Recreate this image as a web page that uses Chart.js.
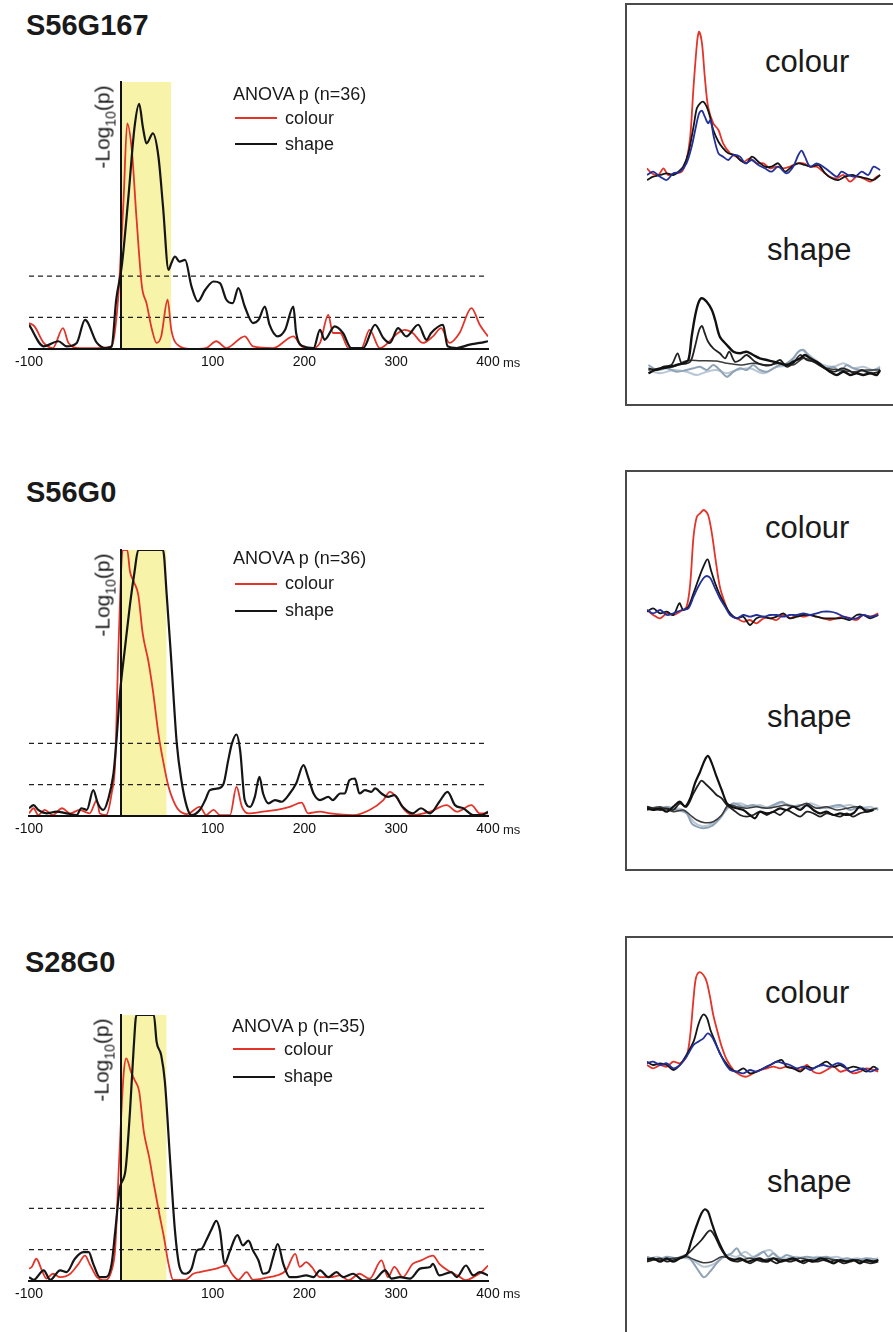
<!DOCTYPE html>
<html>
<head>
<meta charset="utf-8">
<script src="https://cdn.jsdelivr.net/npm/chart.js@4.4.1/dist/chart.umd.min.js"></script>
<style>
  html, body { margin: 0; padding: 0; background: #fff; }
  body { width: 893px; height: 1332px; position: relative; overflow: hidden;
         font-family: "Liberation Sans", Arial, sans-serif; color: #1a1a1a; }
  .abs { position: absolute; white-space: nowrap; }
  .title { font-weight: bold; font-size: 29px; line-height: 29px; }
  .leg { font-size: 18px; line-height: 18px; }
  .swatch { position: absolute; width: 42px; height: 0; border-top: 2px solid; }
  .ylab { font-size: 21px; line-height: 21px; transform: translate(-50%, -50%) rotate(-90deg); }
  .ylab sub { font-size: 14px; vertical-align: -6px; line-height: 0; }
  .ms { font-size: 13px; line-height: 13px; }
  .box { position: absolute; border: 2px solid #4a4a4a; box-sizing: border-box; }
  .big { font-size: 31px; line-height: 31px; }
  canvas { position: absolute; display: block; }
</style>
</head>
<body>

<!-- cell names -->
<div class="abs title" style="left:26px;top:10.5px">S56G167</div>
<div class="abs title" style="left:26px;top:477.5px">S56G0</div>
<div class="abs title" style="left:25px;top:947.5px">S28G0</div>

<!-- significance plots -->
<canvas id="sig1" width="560" height="317" style="left:0;top:62px"></canvas>
<canvas id="sig2" width="560" height="316" style="left:0;top:530px"></canvas>
<canvas id="sig3" width="560" height="316" style="left:0;top:995px"></canvas>

<div class="abs ylab" style="left:102px;top:127px">-Log<sub>10</sub>(p)</div>
<div class="abs ylab" style="left:102px;top:595px">-Log<sub>10</sub>(p)</div>
<div class="abs ylab" style="left:101px;top:1060px">-Log<sub>10</sub>(p)</div>

<div class="abs ms" style="left:503px;top:355.6px">ms</div>
<div class="abs ms" style="left:503px;top:822.6px">ms</div>
<div class="abs ms" style="left:503px;top:1287px">ms</div>

<!-- legends -->
<div class="abs leg" style="left:233px;top:84.8px">ANOVA p (n=36)</div>
<div class="swatch" style="left:235px;top:117px;border-color:#e3342a"></div>
<div class="abs leg" style="left:285px;top:108.8px">colour</div>
<div class="swatch" style="left:235px;top:143px;border-color:#151515"></div>
<div class="abs leg" style="left:285px;top:134.8px">shape</div>

<div class="abs leg" style="left:233px;top:548.8px">ANOVA p (n=36)</div>
<div class="swatch" style="left:235px;top:583px;border-color:#e3342a"></div>
<div class="abs leg" style="left:285px;top:573.8px">colour</div>
<div class="swatch" style="left:235px;top:610px;border-color:#151515"></div>
<div class="abs leg" style="left:285px;top:600.8px">shape</div>

<div class="abs leg" style="left:232px;top:1016.8px">ANOVA p (n=35)</div>
<div class="swatch" style="left:233px;top:1048px;border-color:#e3342a"></div>
<div class="abs leg" style="left:284px;top:1039.8px">colour</div>
<div class="swatch" style="left:233px;top:1076px;border-color:#151515"></div>
<div class="abs leg" style="left:284px;top:1066.8px">shape</div>

<!-- response panels -->
<div class="box" style="left:625px;top:3px;width:300px;height:403px"></div>
<div class="box" style="left:625px;top:470px;width:300px;height:401px"></div>
<div class="box" style="left:625px;top:936px;width:300px;height:430px"></div>

<div class="abs big" style="left:765px;top:45.8px">colour</div>
<div class="abs big" style="left:767px;top:233.8px">shape</div>
<div class="abs big" style="left:765px;top:511.8px">colour</div>
<div class="abs big" style="left:767px;top:700.8px">shape</div>
<div class="abs big" style="left:765px;top:976.8px">colour</div>
<div class="abs big" style="left:767px;top:1165.8px">shape</div>

<canvas id="r1c" width="247" height="173" style="left:641px;top:16px"></canvas>
<canvas id="r1s" width="247" height="113" style="left:641px;top:276px"></canvas>
<canvas id="r2c" width="247" height="138" style="left:641px;top:496px"></canvas>
<canvas id="r2s" width="247" height="103" style="left:641px;top:736px"></canvas>
<canvas id="r3c" width="247" height="133" style="left:641px;top:961px"></canvas>
<canvas id="r3s" width="247" height="98" style="left:641px;top:1196px"></canvas>

<script>
// ---- axis settings for the -log10(p) plots ----
const xTickLabels = ['-100', '', '100', '200', '300', '400'];
const yTop = 11;                 // -log10(p) values above this are drawn at the ceiling
const thresholds = [1.3, 3];     // p = 0.05 and p = 0.001
const windowEnd = [55, 50, 50];  // end of the early response window (ms)

// ---- -log10(p) time courses, [time ms, -log10 p] ----
const s56g167Colour = [[-100,1.07],[-94,0.93],[-84,0.25],[-74,0.04],[-63,0.86],[-57,0.25],[-45,0.04],[-26,0.04],[-10,0.11],[-3,2.03],[3,6.14],[7,9.29],[12,8.19],[17,5.45],[23,2.58],[28,1.89],[34,0.79],[39,0.25],[44,0.52],[51,2.03],[55,0.79],[64,0.11],[75,0],[93,0.04],[104,0.32],[115,0.04],[135,0.52],[144,0.11],[166,0.04],[188,0.52],[197,0.11],[208,0.04],[217,0.25],[226,1.41],[231,0.66],[239,0.66],[248,0.04],[262,0.04],[271,0.79],[282,0.04],[302,0.66],[309,0.79],[318,0.66],[329,0.25],[340,0.52],[349,0.86],[358,0.25],[369,0.66],[382,1.68],[391,1.0],[400,0.52]];
const s56g167Shape = [[-100,1.0],[-84,0.11],[-68,0.32],[-59,0.11],[-48,0.25],[-39,1.2],[-26,0.25],[-16,0.04],[-10,0.11],[-5,2.03],[1,3.4],[8,6.14],[15,9.15],[20,10.1],[24,9.15],[28,8.47],[35,8.88],[41,7.92],[46,5.86],[52,3.26],[55,3.53],[59,3.81],[64,3.6],[70,3.67],[77,2.58],[84,1.96],[92,2.44],[101,2.78],[108,2.71],[115,2.03],[122,1.89],[128,2.51],[135,1.75],[144,1.07],[150,1.2],[157,1.75],[162,1.0],[171,0.52],[179,0.79],[188,1.75],[191,0.66],[199,0.11],[210,0.04],[217,0.79],[222,0.38],[233,0.93],[242,0.66],[251,0.04],[264,0.04],[277,1.0],[286,0.45],[293,0.25],[302,0.86],[311,0.52],[324,1.0],[333,0.38],[338,0.66],[351,1.0],[356,0.11],[366,0.04],[380,0.18],[391,0.25],[400,0.32]];

const s56g0Colour = [[-100,0.11],[-95,0.32],[-90,0.04],[-83,0.25],[-74,0.04],[-64,0.32],[-55,0.11],[-45,0.25],[-34,0.11],[-26,0.66],[-23,0.11],[-16,0.04],[-10,0.93],[-6,2.3],[-3,6.41],[0,9.84],[2,11],[7,11],[10,10.11],[14,9.7],[19,9.15],[24,7.51],[30,6.41],[35,5.18],[41,3.4],[46,2.3],[52,1.21],[57,0.66],[63,0.25],[72,0.08],[86,0.38],[93,0.04],[101,0.25],[108,0.04],[119,0.04],[126,1.21],[132,0.38],[139,0.11],[155,0.18],[170,0.25],[184,0.38],[197,0.55],[204,0.11],[217,0.18],[228,0.11],[253,0.04],[271,0.25],[286,0.66],[293,1.0],[300,0.79],[309,0.25],[318,0.04],[337,0.18],[355,0.45],[366,0.18],[382,0.45],[391,0.11],[400,0.11]];
const s56g0Shape = [[-100,0.32],[-95,0.45],[-90,0.25],[-81,0.11],[-70,0.18],[-59,0.11],[-48,0.04],[-43,0.32],[-37,0.25],[-30,1.07],[-25,0.52],[-19,0.25],[-14,0.66],[-8,1.75],[-5,2.99],[-1,5.04],[5,7.1],[10,8.74],[15,10.11],[19,11],[46,11],[50,9.15],[55,6.41],[61,2.99],[66,1.48],[72,0.38],[77,0.04],[86,0.25],[92,0.66],[97,1.07],[106,1.14],[112,1.34],[117,2.3],[121,2.99],[126,3.37],[130,2.71],[135,0.66],[141,0.38],[146,0.79],[151,1.62],[155,0.93],[161,0.52],[168,0.66],[175,0.59],[184,0.93],[191,1.34],[199,2.1],[204,1.62],[210,0.93],[217,0.66],[226,0.79],[231,0.66],[239,0.93],[244,0.93],[249,1.48],[255,1.55],[260,0.93],[266,1.07],[273,1.0],[277,1.14],[284,0.93],[291,0.79],[298,0.86],[307,0.38],[318,0.11],[327,0.32],[337,0.11],[347,0.59],[356,1.0],[364,0.45],[373,0.32],[384,0.04],[393,0.04],[400,0.18]];

const s28g0Colour = [[-100,0.51],[-97,0.58],[-92,0.92],[-86,0.44],[-81,0.1],[-74,0.3],[-66,0.16],[-55,0.3],[-46,0.71],[-39,1.05],[-34,0.71],[-26,0.16],[-17,0.03],[-10,0.44],[-6,1.4],[-2,4.82],[3,8.52],[6,9.21],[11,8.66],[15,8.32],[20,7.84],[25,6.19],[31,5.1],[36,4.0],[42,2.77],[47,1.81],[52,0.71],[57,0.05],[70,0.05],[79,0.3],[86,0.37],[95,0.44],[104,0.51],[115,0.64],[121,0.3],[128,0.05],[137,0.37],[144,0.05],[159,0.14],[170,0.23],[180,0.44],[190,1.12],[195,0.58],[202,0.78],[208,0.58],[217,0.16],[228,0.16],[239,0.23],[248,0.03],[260,0.3],[271,0.1],[284,0.85],[291,0.16],[298,0.58],[307,0.16],[318,0.71],[327,0.85],[340,1.05],[347,0.71],[356,0.44],[367,0.23],[376,0.03],[384,0.16],[393,0.37],[400,0.64]];
const s28g0Shape = [[-100,0.16],[-95,0.05],[-84,0.44],[-77,0.05],[-66,0.44],[-59,0.37],[-50,0.92],[-41,1.19],[-35,1.19],[-30,0.71],[-23,0.16],[-16,0.16],[-10,0.71],[-6,2.08],[-1,3.86],[5,4.55],[10,7.01],[14,9.62],[17,11],[36,11],[39,9.89],[44,9.34],[48,8.25],[54,4.82],[59,2.08],[64,0.58],[70,0.3],[77,0.51],[83,1.26],[88,1.33],[93,1.67],[99,2.15],[104,2.49],[108,2.08],[113,0.71],[119,1.26],[127,1.9],[133,1.47],[139,1.67],[144,1.26],[150,0.85],[155,0.3],[161,0.37],[166,0.99],[171,1.53],[177,0.71],[184,0.16],[191,0.16],[202,0.23],[210,0.16],[217,0.44],[226,0.16],[235,0.37],[242,0.16],[253,0.3],[264,0.03],[275,0.03],[288,0.44],[295,0.1],[304,0.16],[315,0.1],[326,0.51],[337,0.58],[340,0.71],[347,0.23],[360,0.37],[366,0.16],[376,0.64],[384,0.23],[391,0.37],[400,0.23]];

// ---- firing-rate traces (spikes/s) for the response panels, [time ms, rate] ----
const s56g167ColourRed = [[-100,16.7],[-90,11.7],[-76,10],[-65,16.7],[-55,10],[-40,11.7],[-26,13.3],[-16,25],[-8,48.3],[-1,98],[7,145],[11,153.3],[17,141.7],[23,108],[30,78],[41,61.7],[52,55],[62,41.7],[77,31.7],[91,28],[105,23],[119,26.7],[133,21.7],[148,21.7],[162,16.7],[176,18.3],[190,16.7],[204,18.3],[219,21.7],[233,21.7],[247,18.3],[261,18.3],[275,13.3],[289,8.3],[304,6.7],[318,10],[332,3.3],[346,8.3],[360,6.7],[375,3.3],[389,8.3],[396,10]];
const s56g167ColourBlack = [[-100,5],[-87,8.3],[-72,10],[-58,11.7],[-44,10],[-33,13.3],[-23,18.3],[-12,31.7],[-1,58.3],[6,76.7],[13,81.7],[20,83.3],[27,78.3],[34,68.3],[41,55],[52,43.3],[62,36.7],[73,31.7],[87,30],[98,25],[112,21.7],[123,28.3],[137,23.3],[151,18.3],[165,18.3],[179,21.7],[194,13.3],[208,18.3],[222,21.7],[236,20],[250,18.3],[265,20],[279,11.7],[293,6.7],[307,5],[321,8.3],[336,10],[350,8.3],[367,6.7],[382,5],[396,10]];
const s56g167ColourBlue = [[-100,10],[-87,13.3],[-72,8.3],[-58,5],[-44,11.7],[-30,13.3],[-16,21.7],[-5,38.3],[4,58.3],[11,71.7],[17,74.3],[23,68.3],[30,61.7],[35,65],[42,48.3],[52,31.7],[62,28.3],[73,25],[84,30],[98,28.3],[109,21.7],[123,25],[137,20],[151,16.7],[165,13.3],[179,18.3],[197,11.7],[211,18.3],[222,30],[229,34.3],[236,28.3],[247,18.3],[261,21.7],[275,18.3],[289,13.3],[304,8.3],[314,13.3],[328,10],[343,8.3],[357,13.3],[371,10],[382,18.3],[396,15]];
const s56g167ShapeStrong = [[-97,11.7],[-83,15],[-69,16.7],[-51,18.3],[-37,20],[-23,21.7],[-12,25],[-5,48.3],[2,68.3],[9,81.7],[16,86.7],[27,83.3],[38,75],[45,65],[55,48.3],[70,40],[84,33.3],[98,31.7],[112,33.3],[126,30],[140,26.7],[155,25],[169,23.3],[183,21.7],[197,20],[211,23.3],[226,26.7],[236,30],[247,26.7],[261,23.3],[275,18.3],[289,13.3],[304,10],[318,13.3],[332,10],[346,11.7],[360,10],[375,11.7],[389,10],[396,15]];
const s56g167ShapeMid = [[-97,16.7],[-79,15],[-65,18.3],[-48,20],[-35,31.7],[-26,21.7],[-8,23.3],[2,38.3],[11,55],[17,59],[23,51.7],[30,43.3],[41,36.7],[55,31.7],[66,26.7],[75,33.3],[87,23.3],[98,25],[112,30],[130,23.3],[148,20],[165,20],[183,25],[197,18.3],[211,21.7],[226,30],[240,25],[254,23.3],[272,18.3],[286,15],[300,13.3],[314,16.7],[328,15],[343,11.7],[357,15],[375,11.7],[396,13.3]];
const s56g167ShapeFlat = [[-97,15],[-72,16.7],[-44,18.3],[-16,24.3],[13,24.3],[48,24],[70,21.7],[98,20],[126,21.7],[155,20],[183,21.7],[211,20],[233,26.7],[254,23.3],[282,16.7],[311,15],[339,13.3],[367,15],[396,15]];
const s56g167ShapeLight1 = [[-97,20],[-79,15],[-58,16.7],[-37,13.3],[-16,15],[-1,16.7],[13,18.3],[27,15],[41,20],[55,15],[70,8.3],[84,13.3],[98,16.7],[112,15],[126,20],[140,15],[155,13.3],[169,16.7],[183,20],[197,21.7],[211,26.7],[222,33.3],[233,35],[243,30],[254,25],[268,21.7],[282,16.7],[297,18.3],[311,13.3],[325,20],[339,16.7],[353,15],[367,13.3],[382,15],[396,16.7]];
const s56g167ShapeLight2 = [[-97,15],[-72,11.7],[-44,15],[-16,13.3],[6,10],[27,13.3],[48,15],[70,11.7],[91,15],[119,16.7],[148,11.7],[176,18.3],[204,20],[219,31.7],[229,35],[240,31.7],[254,26.7],[275,20],[297,18.3],[318,21.7],[339,16.7],[360,18.3],[382,15],[396,18.3]];

const s56g0ColourRed = [[-100,20],[-87,15],[-72,11.7],[-58,16.7],[-44,15],[-30,18.3],[-16,23.3],[-8,46.7],[-1,93.3],[6,113.3],[13,116.7],[21,120],[30,115],[38,96.7],[45,73.3],[55,43.3],[66,26.7],[77,15],[91,11.7],[105,8.3],[119,10],[133,6.7],[148,11.7],[162,11.7],[176,10],[190,15],[204,11.7],[219,15],[233,13.3],[247,15],[261,13.3],[275,11.7],[289,10],[304,11.7],[318,13.3],[332,11.7],[346,10],[360,15],[375,13.3],[392,16.7]];
const s56g0ColourBlack = [[-100,18.3],[-87,21.7],[-72,16.7],[-58,18.3],[-44,15],[-31,26.7],[-23,20],[-12,23.3],[-1,36.7],[9,50],[20,63.3],[29,70.7],[36,60],[45,46.7],[55,35],[66,25],[77,16.7],[91,11.7],[105,13.3],[119,5],[133,11.7],[148,13.3],[162,11.7],[176,13.3],[190,16.7],[204,11.7],[219,13.3],[233,15],[247,15],[261,13.3],[275,11.7],[289,11.7],[304,11.7],[318,11.7],[332,10],[346,15],[360,15],[375,11.7],[392,15]];
const s56g0ColourBlue = [[-100,20],[-87,16.7],[-72,20],[-58,15],[-44,16.7],[-26,20],[-12,21.7],[-1,33.3],[9,43.3],[20,51.7],[27,54],[35,51.7],[45,41.7],[55,31.7],[66,23.3],[77,15],[91,11.7],[105,15],[119,13.3],[133,15],[148,13.3],[162,15],[176,15],[190,13.3],[204,15],[219,15],[233,16.7],[247,15],[261,16.7],[275,18.3],[289,18.3],[304,16.7],[318,13.3],[332,11.7],[346,11.7],[360,15],[375,13.3],[392,15]];
const s56g0ShapeStrong = [[-100,26.7],[-87,25],[-72,26.7],[-58,23.3],[-44,28.3],[-30,33.3],[-19,28.3],[-8,36.7],[2,51.7],[13,63.3],[23,75],[30,79],[38,71.7],[48,58.3],[59,45],[70,31.7],[80,28.3],[91,26.7],[105,25],[119,20],[130,16.7],[140,23.3],[155,21.7],[169,23.3],[183,26.7],[197,25],[211,28.3],[226,25],[240,30],[254,25],[268,21.7],[282,23.3],[297,20],[311,21.7],[325,20],[339,21.7],[353,28.3],[367,23.3],[382,25]];
const s56g0ShapeMid = [[-100,28.3],[-87,26.7],[-72,25],[-58,26.7],[-44,25],[-30,31.7],[-16,28.3],[-1,41.7],[9,50],[16,54.3],[27,50],[38,45],[48,40],[59,36.7],[70,30],[84,25],[98,20],[112,18.3],[126,20],[140,23.3],[155,20],[169,23.3],[183,20],[197,25],[211,21.7],[226,18.3],[240,23.3],[254,21.7],[268,18.3],[282,21.7],[297,20],[311,18.3],[325,21.7],[339,18.3],[353,21.7],[367,23.3],[382,25]];
const s56g0ShapeFlat = [[-100,25],[-72,28.3],[-44,23.3],[-23,25],[-8,20],[6,15],[23,12.3],[41,13.3],[59,20],[73,30],[91,28.3],[112,26.7],[133,28.3],[155,26.7],[176,28.3],[197,30],[219,28.3],[240,31.7],[261,26.7],[282,28.3],[304,25],[325,26.7],[346,28.3],[367,25],[389,26.7]];
const s56g0ShapeLight1 = [[-100,28.3],[-79,25],[-58,28.3],[-37,25],[-16,21.7],[-5,11.7],[6,8.3],[20,6.7],[38,9],[55,16.7],[70,26.7],[84,31.7],[105,28.3],[126,30],[148,26.7],[169,30],[187,33.3],[204,28.3],[226,30],[247,28.3],[268,26.7],[289,28.3],[311,30],[332,25],[353,28.3],[375,25],[392,26.7]];
const s56g0ShapeLight2 = [[-100,25],[-79,28.3],[-58,25],[-37,26.7],[-16,23.3],[-1,13.3],[16,9],[34,10],[52,15],[66,23.3],[80,30],[98,31.7],[119,28.3],[140,30],[162,26.7],[183,31.7],[204,30],[226,26.7],[247,31.7],[268,28.3],[289,26.7],[311,28.3],[332,30],[353,26.7],[375,28.3],[392,25]];

const s28g0ColourRed = [[-100,25],[-87,21.7],[-72,25],[-58,23.3],[-44,28.3],[-30,26.7],[-16,33.3],[-8,55],[-1,91.7],[4,111.7],[11,117.7],[20,115],[27,108.3],[34,93.3],[41,75],[50,58.3],[59,43.3],[70,30],[84,20],[98,15],[112,13.3],[126,16.7],[140,20],[155,21.7],[169,23.3],[183,21.7],[197,23.3],[211,21.7],[226,20],[240,25],[254,18.3],[268,16.7],[282,20],[297,23.3],[311,18.3],[325,20],[339,16.7],[353,18.3],[367,21.7],[382,20],[392,18.3]];
const s28g0ColourBlack = [[-100,28.3],[-87,25],[-72,26.7],[-58,25],[-44,20],[-30,25],[-16,35],[-1,48.3],[9,65],[16,73.3],[21,75.7],[28,71.7],[35,60],[45,48.3],[55,36.7],[66,28.3],[77,21.7],[91,18.3],[105,21.7],[119,16.7],[133,18.3],[148,21.7],[162,25],[176,28.3],[187,30],[197,23.3],[211,21.7],[226,18.3],[240,23.3],[254,21.7],[268,25],[282,28.3],[297,23.3],[311,25],[325,21.7],[339,23.3],[353,21.7],[367,18.3],[382,23.3],[392,20]];
const s28g0ColourBlue = [[-100,26.7],[-87,28.3],[-72,25],[-58,26.7],[-44,21.7],[-30,25],[-16,33.3],[-1,45],[9,48.3],[20,51.7],[29,56.7],[38,53.3],[47,45],[57,35],[66,26.7],[77,20],[91,18.3],[105,16.7],[119,20],[133,18.3],[148,21.7],[162,25],[176,28.3],[190,26.7],[204,25],[219,21.7],[233,23.3],[247,20],[261,23.3],[275,25],[289,23.3],[304,26.7],[318,25],[332,18.3],[346,20],[360,21.7],[375,18.3],[392,21.7]];
const s28g0ShapeStrong = [[-100,30],[-87,31.7],[-72,28.3],[-58,31.7],[-44,28.3],[-30,31.7],[-16,35],[-5,50],[6,65],[16,76.7],[23,80.7],[30,78.3],[38,66.7],[48,53.3],[59,41.7],[70,33.3],[84,30],[98,31.7],[112,28.3],[126,30],[140,31.7],[155,28.3],[169,31.7],[183,28.3],[197,30],[211,31.7],[226,28.3],[240,30],[254,28.3],[268,31.7],[282,30],[297,26.7],[311,30],[325,28.3],[339,30],[353,26.7],[367,30],[382,28.3],[392,30]];
const s28g0ShapeMid = [[-100,28.3],[-87,30],[-72,31.7],[-58,28.3],[-44,30],[-30,31.7],[-12,36.7],[2,43.3],[16,50],[30,58.3],[36,59.3],[45,53.3],[55,43.3],[66,35],[77,30],[91,28.3],[105,30],[119,26.7],[133,30],[148,28.3],[162,30],[176,26.7],[190,30],[204,28.3],[219,30],[233,26.7],[247,30],[261,28.3],[275,30],[289,28.3],[304,30],[318,26.7],[332,28.3],[346,30],[360,28.3],[375,26.7],[392,28.3]];
const s28g0ShapeFlat = [[-100,31.7],[-72,30],[-44,31.7],[-16,33.3],[2,30],[20,27.3],[38,28.3],[59,33.3],[77,31.7],[98,30],[119,31.7],[140,30],[169,31.7],[197,30],[226,31.7],[254,30],[282,31.7],[311,28.3],[339,30],[367,28.3],[392,30]];
const s28g0ShapeLight1 = [[-100,33.3],[-79,30],[-58,33.3],[-37,31.7],[-16,35],[-1,26.7],[11,18.3],[21,12.7],[34,18.3],[48,26.7],[62,33.3],[80,36.7],[91,41.7],[101,35],[119,31.7],[137,35],[148,38.3],[158,33.3],[169,36.7],[183,31.7],[197,35],[219,31.7],[240,33.3],[261,31.7],[282,33.3],[304,30],[325,31.7],[346,30],[367,31.7],[392,30]];
const s28g0ShapeLight2 = [[-100,30],[-79,33.3],[-58,30],[-37,31.7],[-16,31.7],[2,28.3],[20,23.3],[38,25],[55,30],[73,35],[91,33.3],[109,38.3],[126,33.3],[140,36.7],[162,40],[176,33.3],[197,31.7],[219,33.3],[240,30],[261,33.3],[282,31.7],[304,33.3],[325,30],[346,31.7],[367,30],[392,31.7]];

// ---- styling ----
const RED = '#e3342a', BLACK = '#151515', BLUE = '#22309a', YELLOW = '#f7f4aa';
const FONT = '"Liberation Sans", Arial, sans-serif';
Chart.defaults.font.family = FONT;

function sigChart(id, colour, shape, winEnd) {
  new Chart(document.getElementById(id), {
    type: 'line',
    data: {
      datasets: [
        { data: shape, borderColor: BLACK, borderWidth: 2.2, order: 1 },
        { data: colour, borderColor: RED, borderWidth: 1.8, order: 2 },
        { data: [[-100, thresholds[0]], [400, thresholds[0]]], borderColor: '#222', borderWidth: 1.3, borderDash: [5, 4], order: 3 },
        { data: [[-100, thresholds[1]], [400, thresholds[1]]], borderColor: '#222', borderWidth: 1.3, borderDash: [5, 4], order: 3 },
        { data: [[0, yTop], [winEnd, yTop]], borderWidth: 0, borderColor: 'rgba(0,0,0,0)', backgroundColor: YELLOW, fill: 'origin', order: 9 }
      ]
    },
    options: {
      responsive: false, animation: false, events: [],
      layout: { padding: { left: 29, right: 72, top: 20, bottom: 0 } },
      elements: { point: { radius: 0 }, line: { cubicInterpolationMode: 'monotone' } },
      plugins: { legend: { display: false }, tooltip: { enabled: false } },
      scales: {
        x: {
          type: 'linear', min: -100, max: 400,
          grid: { display: false, drawTicks: false },
          border: { display: true, color: '#111', width: 2, z: 1 },
          ticks: { stepSize: 100, autoSkip: false, maxRotation: 0, padding: 5, color: '#111',
                   font: { size: 14 }, callback: (v, i) => xTickLabels[i] },
          afterFit: (s) => { s.height = 30; }
        },
        y: {
          type: 'linear', min: 0, max: yTop, position: { x: 0 },
          grid: { display: false, drawTicks: false },
          border: { display: true, color: '#111', width: 2, z: 1 },
          ticks: { display: false }
        }
      }
    }
  });
}

function traceChart(id, series, yMax) {
  new Chart(document.getElementById(id), {
    type: 'line',
    data: { datasets: series.map(s => ({ data: s[0], borderColor: s[1], borderWidth: s[2], order: s[3] })) },
    options: {
      responsive: false, animation: false, events: [],
      layout: { padding: { left: 6, right: 6, top: 4, bottom: 4 } },
      elements: { point: { radius: 0 }, line: { tension: 0.3 } },
      plugins: { legend: { display: false }, tooltip: { enabled: false } },
      scales: {
        x: { type: 'linear', min: -100, max: 400, display: false },
        y: { type: 'linear', min: 0, max: yMax, display: false }
      }
    }
  });
}

sigChart('sig1', s56g167Colour, s56g167Shape, windowEnd[0]);
sigChart('sig2', s56g0Colour, s56g0Shape, windowEnd[1]);
sigChart('sig3', s28g0Colour, s28g0Shape, windowEnd[2]);

const L1 = '#8fa3b6', L2 = '#b9c7d5', FLAT = '#3c3c3c';
traceChart('r1c', [[s56g167ColourRed, RED, 1.8, 3], [s56g167ColourBlack, BLACK, 1.8, 2], [s56g167ColourBlue, BLUE, 1.8, 1]], 165);
traceChart('r1s', [[s56g167ShapeLight2, L2, 2, 5], [s56g167ShapeLight1, L1, 2, 4], [s56g167ShapeFlat, FLAT, 1.5, 3], [s56g167ShapeMid, '#222', 1.8, 2], [s56g167ShapeStrong, '#111', 2.4, 1]], 105);
traceChart('r2c', [[s56g0ColourRed, RED, 1.8, 3], [s56g0ColourBlack, BLACK, 1.8, 2], [s56g0ColourBlue, BLUE, 1.8, 1]], 130);
traceChart('r2s', [[s56g0ShapeLight2, L2, 2, 5], [s56g0ShapeLight1, L1, 2, 4], [s56g0ShapeFlat, FLAT, 1.5, 3], [s56g0ShapeMid, '#222', 1.8, 2], [s56g0ShapeStrong, '#111', 2.2, 1]], 95);
traceChart('r3c', [[s28g0ColourRed, RED, 1.8, 3], [s28g0ColourBlack, BLACK, 1.8, 2], [s28g0ColourBlue, BLUE, 1.8, 1]], 125);
traceChart('r3s', [[s28g0ShapeLight2, L2, 2, 5], [s28g0ShapeLight1, L1, 2, 4], [s28g0ShapeFlat, FLAT, 1.5, 3], [s28g0ShapeMid, '#222', 1.8, 2], [s28g0ShapeStrong, '#111', 2.2, 1]], 90);
</script>
</body>
</html>
